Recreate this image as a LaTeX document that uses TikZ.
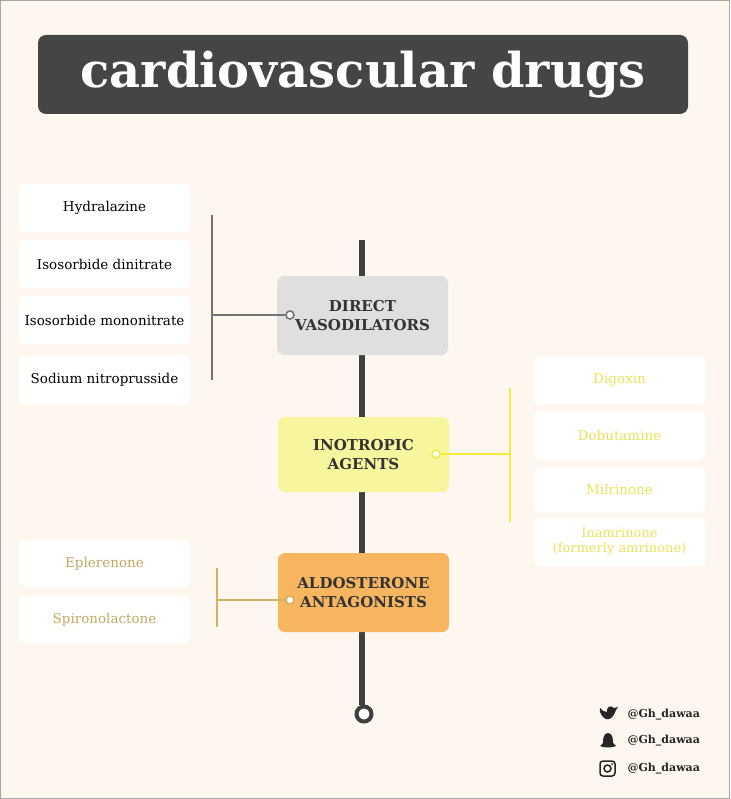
\documentclass[tikz,border=0pt]{standalone}
\usepackage{fontspec}
\setmainfont{DejaVu Serif}
\begin{document}
\begin{tikzpicture}[x=1pt,y=-1pt,
 item/.style={fill=white,rounded corners=6pt,minimum width=171pt,minimum height=48pt,inner sep=0pt,font=\fontsize{13.5}{15}\selectfont,align=center},
 cat/.style={rounded corners=7pt,minimum width=171pt,inner sep=0pt,font=\bfseries\fontsize{15}{19}\selectfont,align=center,text=black!80},
 dot/.style={circle,draw,line width=1.6pt,fill=white,inner sep=0pt,minimum size=8pt},
 soc/.style={font=\bfseries\fontsize{11}{12}\selectfont,anchor=west,text=black!85}]
\useasboundingbox (0,0) rectangle (730,799);
\fill[color={rgb,255:red,253;green,247;blue,240}] (0,0) rectangle (730,799);
\draw[gray!70,line width=1pt] (0.5,0.5) rectangle (729.5,798.5);
\node[fill=black!73,rounded corners=8pt,minimum width=650pt,minimum height=79pt,text=white,font=\bfseries\fontsize{48}{50}\selectfont] (title) at (363,74.5) {cardiovascular drugs};
% spine
\coordinate (top) at (362,240);
\node[circle,draw=black!75,line width=4pt,fill=white,minimum size=15pt,inner sep=0pt] (end) at (364,714) {};
\draw[black!75,line width=6pt] (top) -- (362,705);
% categories
\node[cat,fill={rgb,255:red,224;green,223;blue,223},minimum height=79pt] (dv) at (362.5,315.5) {DIRECT\\VASODILATORS};
\node[cat,fill={rgb,255:red,247;green,245;blue,158},minimum height=75pt] (ia) at (363.5,454.5) {INOTROPIC\\AGENTS};
\node[cat,fill={rgb,255:red,247;green,181;blue,96},minimum height=79pt] (aa) at (363.5,592.5) {ALDOSTERONE\\ANTAGONISTS};
% left items
\node[item] (h) at (104.5,208) {Hydralazine};
\node[item] (id) at (104.5,264) {Isosorbide dinitrate};
\node[item] (im) at (104.5,320) {Isosorbide mononitrate};
\node[item] (sn) at (104.5,380) {Sodium nitroprusside};
\coordinate (b1t) at (212,215); \coordinate (b1b) at (212,380); \coordinate (b1m) at (212,315);
\draw[black!55,line width=2.5pt] (b1t) -- (b1b);
\node[dot,draw=black!55] (d1) at (290,315) {};
\draw[black!55,line width=2.5pt] (b1m) -- (d1);
% right items
\begin{scope}[every node/.append style={text={rgb,255:red,236;green,226;blue,90}}]
\node[item] (dg) at (619.5,380.5) {Digoxin};
\node[item] (db) at (619.5,435.5) {Dobutamine};
\node[item,minimum height=45pt] (ml) at (619.5,489.5) {Milrinone};
\node[item,font=\fontsize{13}{15}\selectfont] (in) at (619.5,542) {Inamrinone\\(formerly amrinone)};
\end{scope}
\coordinate (b2t) at (510,388); \coordinate (b2b) at (510,522); \coordinate (b2m) at (510,454);
\draw[color={rgb,255:red,244;green,236;blue,60},line width=2.5pt] (b2t) -- (b2b);
\node[dot,draw={rgb,255:red,244;green,236;blue,60},minimum size=8pt,line width=1.6pt] (d2) at (436,454) {};
\draw[color={rgb,255:red,244;green,236;blue,60},line width=2.5pt] (d2) -- (b2m);
% bottom left
\begin{scope}[every node/.append style={text={rgb,255:red,196;green,168;blue,98}}]
\node[item,minimum height=47pt] (ep) at (104.5,563.5) {Eplerenone};
\node[item,minimum height=47pt] (sp) at (104.5,619.5) {Spironolactone};
\end{scope}
\coordinate (b3t) at (217,568); \coordinate (b3b) at (217,627); \coordinate (b3m) at (217,600);
\draw[color={rgb,255:red,212;green,176;blue,96},line width=2.5pt] (b3t) -- (b3b);
\node[dot,draw={rgb,255:red,212;green,176;blue,96}] (d3) at (290,600) {};
\draw[color={rgb,255:red,212;green,176;blue,96},line width=2.5pt] (b3m) -- (d3);
% socials
\node[soc] (s1) at (624,715) {@Gh\_dawaa};
\node[soc] (s2) at (624,741) {@Gh\_dawaa};
\node[soc] (s3) at (624,769) {@Gh\_dawaa};
\fill[black!85] (600,712) .. controls (604,722) and (612,722) .. (616,710) -- (618,707) -- (614,708) .. controls (610,704) and (606,708) .. (607,712) .. controls (604,712) and (601,710) .. (600,708) .. controls (599,711) and (600,713) .. (602,714) -- cycle;
\fill[black!85] (600,746) -- (603,743) .. controls (603,740) and (603,733) .. (608,733) .. controls (613,733) and (613,740) .. (613,743) -- (616,746) .. controls (612,748) and (604,748) .. cycle;
\draw[black!85,line width=1.5pt,rounded corners=3pt] (600,761) rectangle (615,776);
\draw[black!85,line width=1.5pt] (607.5,768.5) circle (3.5);
\fill[black!85] (612,764) circle (1);
\end{tikzpicture}
\end{document}
